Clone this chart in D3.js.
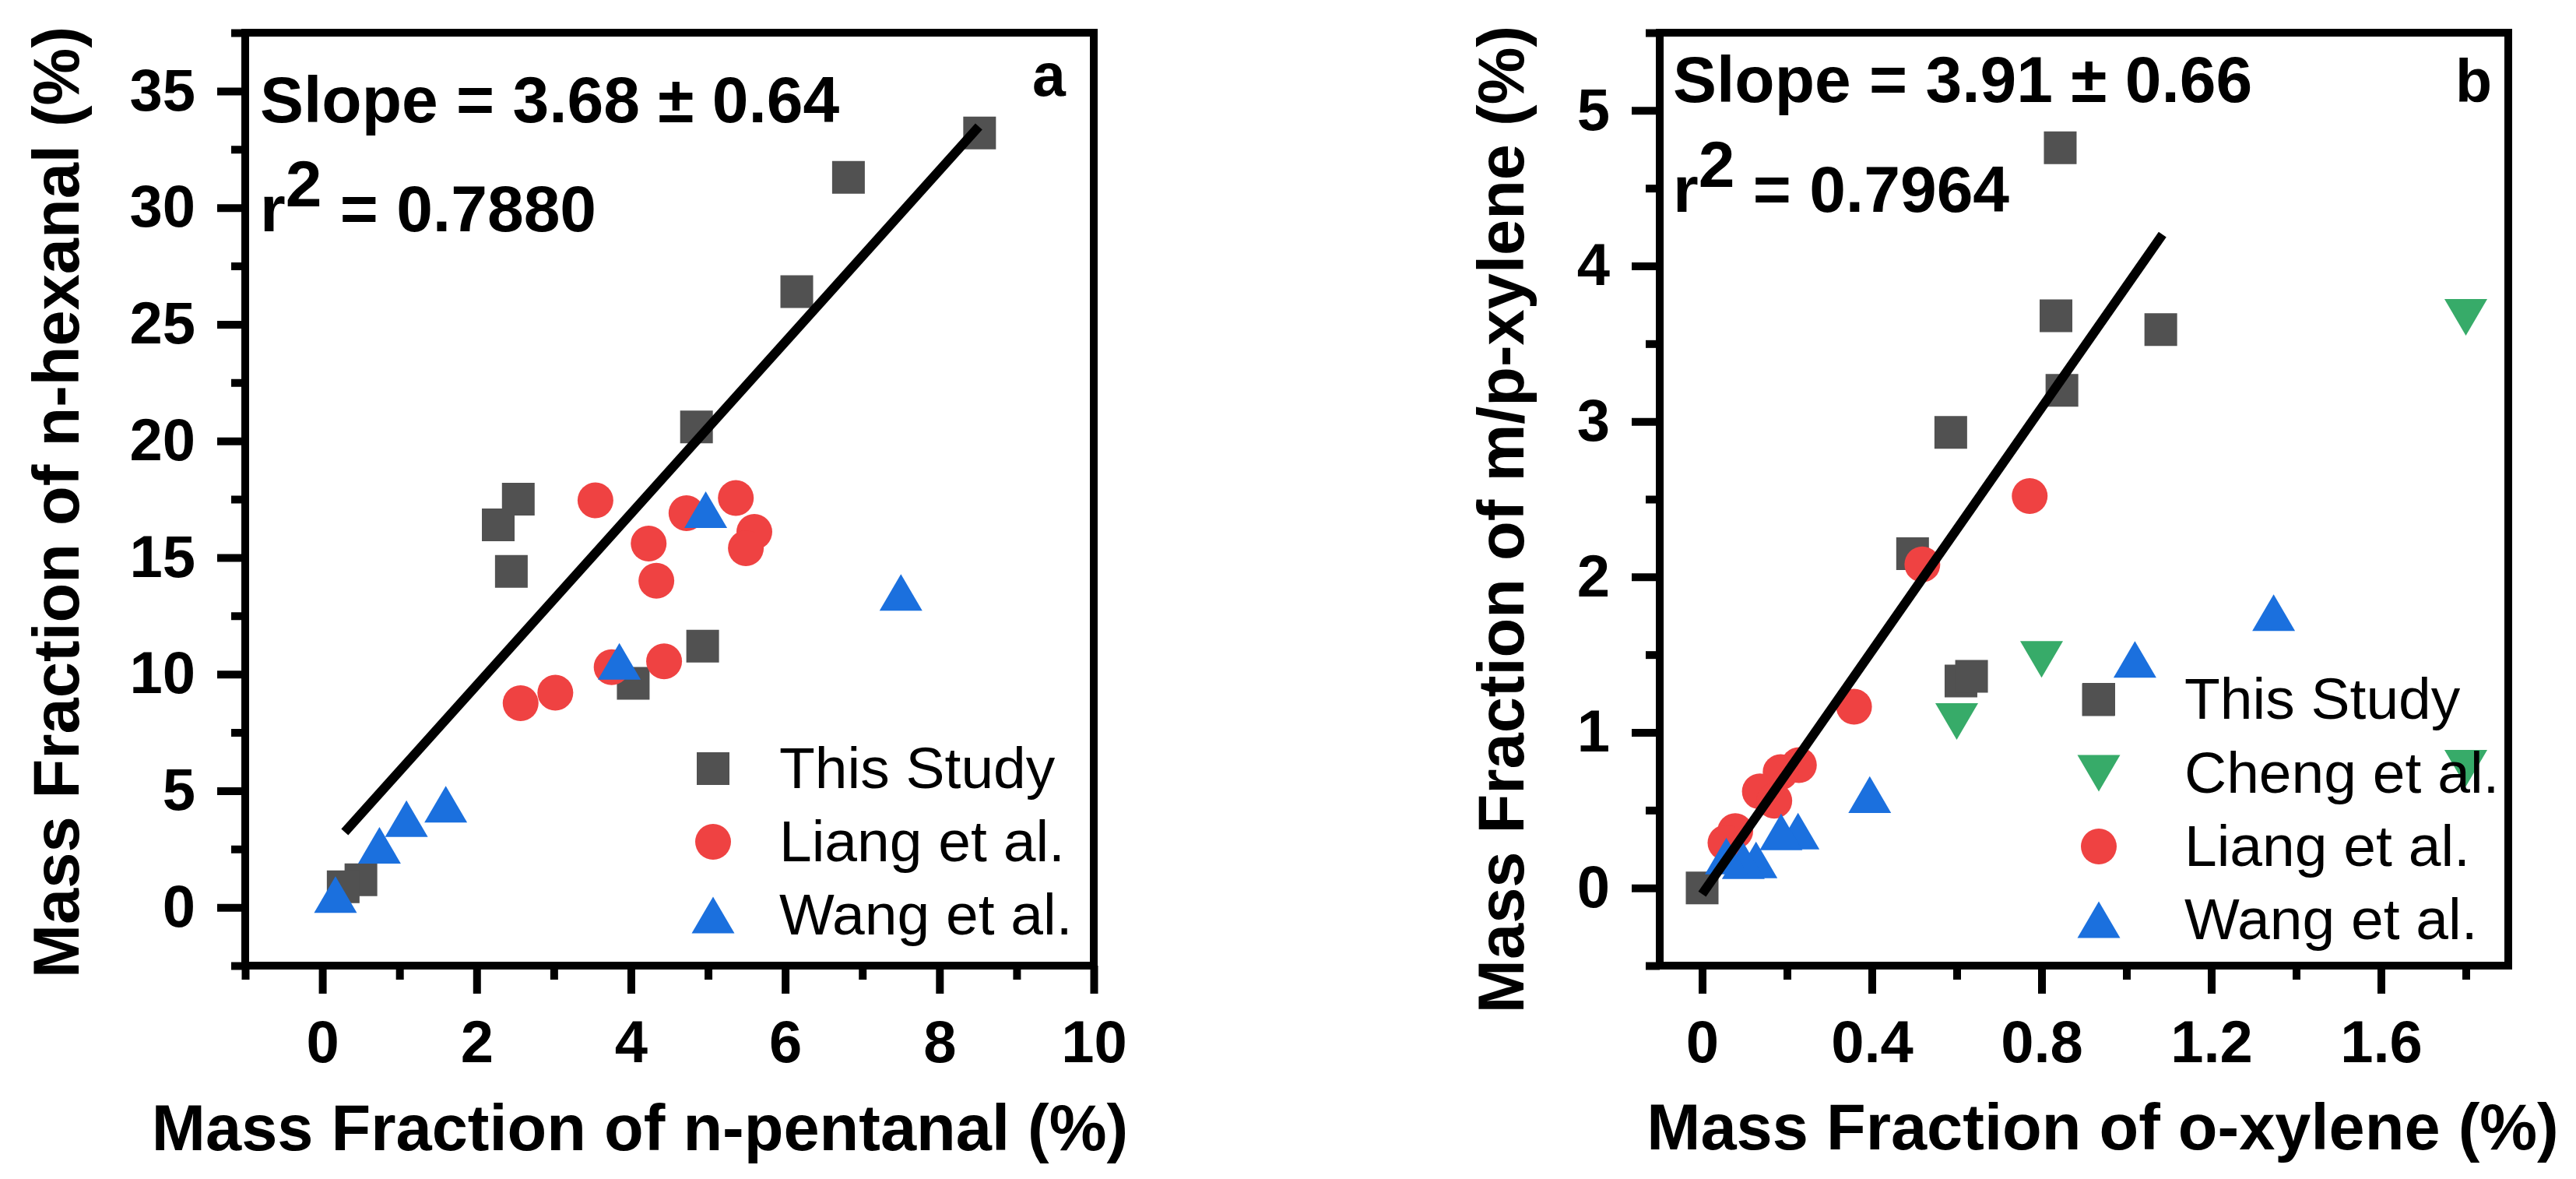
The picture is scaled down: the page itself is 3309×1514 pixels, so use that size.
<!DOCTYPE html>
<html>
<head>
<meta charset="utf-8">
<script src="https://cdn.jsdelivr.net/npm/d3@7/dist/d3.min.js"></script>
<style>
  body { margin: 0; background: #fff; }
  svg { display: block; }
</style>
</head>
<body>
<svg id="chart" width="3309" height="1514"></svg>
<script>
// panel a: n-pentanal vs n-hexanal, [x, y] in %
const studyA = [[8.52, 33.2], [6.82, 31.3], [6.15, 26.4], [4.85, 20.6], [2.54, 17.5], [2.28, 16.4],
  [2.45, 14.4], [4.93, 11.2], [4.03, 9.6], [0.50, 1.18], [0.27, 0.88]];
const liangA = [[3.54, 17.45], [5.36, 17.55], [4.72, 16.9], [5.6, 16.1], [5.49, 15.4], [4.23, 15.6],
  [4.33, 14.0], [3.75, 10.3], [4.43, 10.55], [3.02, 9.2], [2.57, 8.75]];
const wangA = [[0.17, 0.55], [0.74, 2.66], [1.09, 3.8], [1.6, 4.42], [3.85, 10.55], [4.97, 17.05], [7.5, 13.5]];
const fitA = { slope: 3.68, intercept: 2.16, from: 0.29, to: 8.51 };

// panel b: o-xylene vs m/p-xylene
const studyB = [[0.844, 4.76], [0.834, 3.68], [1.081, 3.59], [0.848, 3.20], [0.586, 2.93], [0.496, 2.15],
  [0.61, 1.33], [0.635, 1.36], [0.934, 1.21], [0, 0]];
const chengB = [[1.80, 3.67], [0.80, 1.47], [0.60, 1.07], [1.80, 0.77]];
const liangB = [[0.772, 2.52], [0.519, 2.08], [0.358, 1.165], [0.228, 0.79], [0.185, 0.745], [0.136, 0.62],
  [0.17, 0.56], [0.078, 0.365], [0.055, 0.29]];
const wangB = [[1.347, 1.77], [1.02, 1.47], [0.395, 0.60], [0.226, 0.365], [0.186, 0.36], [0.127, 0.18],
  [0.097, 0.175], [0.057, 0.205]];
const fitB = { slope: 3.91, intercept: -0.04, from: 0, to: 1.085 };

// ticks
const xMajorA = [0, 2, 4, 6, 8, 10];
const xMinorA = [-1, 1, 3, 5, 7, 9];
const yMajorA = [0, 5, 10, 15, 20, 25, 30, 35];
const yMinorA = [-2.5, 2.5, 7.5, 12.5, 17.5, 22.5, 27.5, 32.5, 37.5];
const xMajorB = [0, 0.4, 0.8, 1.2, 1.6];
const xMinorB = [0.2, 0.6, 1.0, 1.4, 1.8];
const yMajorB = [0, 1, 2, 3, 4, 5];
const yMinorB = [-0.5, 0.5, 1.5, 2.5, 3.5, 4.5, 5.5];

const colors = { study: "#515151", cheng: "#37ab69", liang: "#ef4242", wang: "#1b70de" };
const FONT = "'Liberation Sans', Arial, Helvetica, sans-serif";

const svg = d3.select("#chart").attr("font-family", FONT);
svg.append("rect").attr("width", 3309).attr("height", 1514).attr("fill", "#fff");

// triangle symbols centred on their bounding box (size = width)
const triUp = { draw(ctx, w) { const h = w * 0.855; ctx.moveTo(-w / 2, h / 2); ctx.lineTo(0, -h / 2); ctx.lineTo(w / 2, h / 2); ctx.closePath(); } };
const triDown = { draw(ctx, w) { const h = w * 0.855; ctx.moveTo(-w / 2, -h / 2); ctx.lineTo(0, h / 2); ctx.lineTo(w / 2, -h / 2); ctx.closePath(); } };
const shapes = {
  square: d3.symbol().type(d3.symbolSquare).size(42 * 42),
  circle: d3.symbol().type(d3.symbolCircle).size(Math.PI * 23 * 23),
  up: d3.symbol().type(triUp).size(55),
  down: d3.symbol().type(triDown).size(55)
};

function drawPanel(p) {
  const x = d3.scaleLinear().domain(p.xDomain).range([p.left, p.right]);
  const y = d3.scaleLinear().domain(p.yDomain).range([p.bottom, p.top]);
  const g = svg.append("g");

  // points
  p.series.forEach(s => {
    g.append("g").selectAll("path").data(s.data).enter().append("path")
      .attr("d", shapes[s.shape])
      .attr("transform", d => `translate(${x(d[0])},${y(d[1])})`)
      .attr("fill", s.color);
  });

  // linear fit
  g.append("line")
    .attr("x1", x(p.fit.from)).attr("y1", y(p.fit.slope * p.fit.from + p.fit.intercept))
    .attr("x2", x(p.fit.to)).attr("y2", y(p.fit.slope * p.fit.to + p.fit.intercept))
    .attr("stroke", "#000").attr("stroke-width", 12);

  // axes (ticks only, outward)
  const styleAxis = a => {
    a.select(".domain").remove();
    a.attr("font-family", FONT).attr("font-size", 76).attr("font-weight", "bold");
    a.selectAll("line").attr("stroke", "#000").attr("stroke-width", 10);
    a.selectAll("text").attr("fill", "#000");
  };
  g.append("g").attr("transform", `translate(0,${p.bottom})`)
    .call(d3.axisBottom(x).tickValues(p.xMajor).tickSize(36).tickPadding(34).tickFormat(p.xFmt)).call(styleAxis);
  g.append("g").attr("transform", `translate(0,${p.bottom})`)
    .call(d3.axisBottom(x).tickValues(p.xMinor).tickSize(18).tickFormat("")).call(styleAxis);
  g.append("g").attr("transform", `translate(${p.left},0)`)
    .call(d3.axisLeft(y).tickValues(p.yMajor).tickSize(36).tickPadding(28).tickFormat(d3.format("d"))).call(styleAxis);
  g.append("g").attr("transform", `translate(${p.left},0)`)
    .call(d3.axisLeft(y).tickValues(p.yMinor).tickSize(18).tickFormat("")).call(styleAxis);

  // frame
  g.append("rect").attr("x", p.left).attr("y", p.top)
    .attr("width", p.right - p.left).attr("height", p.bottom - p.top)
    .attr("fill", "none").attr("stroke", "#000").attr("stroke-width", 10);

  // slope / r2 annotation
  g.append("text").attr("x", p.noteX).attr("y", p.noteY[0])
    .attr("font-size", 84).attr("font-weight", "bold").text(p.slopeText);
  const r2 = g.append("text").attr("x", p.noteX).attr("y", p.noteY[1])
    .attr("font-size", 84).attr("font-weight", "bold");
  r2.append("tspan").text("r");
  r2.append("tspan").attr("dy", -32).text("2");
  r2.append("tspan").attr("dy", 32).text(" = " + p.r2Text);

  g.append("text").attr("x", p.tagX).attr("y", p.tagY)
    .attr("font-size", 77).attr("font-weight", "bold").text(p.tag);

  // legend
  p.legend.forEach((l, i) => {
    const by = p.legendY[i];
    g.append("path").attr("d", shapes[l.shape])
      .attr("transform", `translate(${p.legendMarkX},${by - 25})`).attr("fill", l.color);
    g.append("text").attr("x", p.legendTextX).attr("y", by)
      .attr("font-size", 75).text(l.name);
  });

  // axis titles
  g.append("text").attr("x", p.xTitle[0]).attr("y", p.xTitle[1])
    .attr("text-anchor", "middle").attr("font-size", 83).attr("font-weight", "bold").text(p.xLabel);
  g.append("text").attr("transform", `translate(${p.yTitle[0]},${p.yTitle[1]}) rotate(-90)`)
    .attr("text-anchor", "middle").attr("font-size", 83).attr("font-weight", "bold").text(p.yLabel);
}

const legendA = [
  { name: "This Study", shape: "square", color: colors.study },
  { name: "Liang et al.", shape: "circle", color: colors.liang },
  { name: "Wang et al.", shape: "up", color: colors.wang }
];
const legendB = [
  { name: "This Study", shape: "square", color: colors.study },
  { name: "Cheng et al.", shape: "down", color: colors.cheng },
  { name: "Liang et al.", shape: "circle", color: colors.liang },
  { name: "Wang et al.", shape: "up", color: colors.wang }
];

drawPanel({
  left: 315, right: 1405, top: 42, bottom: 1240,
  xDomain: [-1, 10], yDomain: [-2.5, 37.5],
  xMajor: xMajorA, xMinor: xMinorA, yMajor: yMajorA, yMinor: yMinorA,
  xFmt: d3.format("d"),
  series: [
    { data: studyA, shape: "square", color: colors.study },
    { data: liangA, shape: "circle", color: colors.liang },
    { data: wangA, shape: "up", color: colors.wang }
  ],
  fit: fitA,
  noteX: 334, noteY: [157, 297], slopeText: "Slope = 3.68 ± 0.64", r2Text: "0.7880",
  tag: "a", tagX: 1326, tagY: 123,
  legend: legendA, legendMarkX: 916, legendTextX: 1001, legendY: [1012, 1106, 1200],
  xLabel: "Mass Fraction of n-pentanal (%)", xTitle: [822, 1477],
  yLabel: "Mass Fraction of n-hexanal (%)", yTitle: [101, 645]
});

drawPanel({
  left: 2132, right: 3222, top: 42, bottom: 1240,
  xDomain: [-0.1, 1.9], yDomain: [-0.5, 5.5],
  xMajor: xMajorB, xMinor: xMinorB, yMajor: yMajorB, yMinor: yMinorB,
  xFmt: d => d === 0 ? "0" : d3.format(".1f")(d),
  series: [
    { data: studyB, shape: "square", color: colors.study },
    { data: chengB, shape: "down", color: colors.cheng },
    { data: liangB, shape: "circle", color: colors.liang },
    { data: wangB, shape: "up", color: colors.wang }
  ],
  fit: fitB,
  noteX: 2149, noteY: [131, 272], slopeText: "Slope = 3.91 ± 0.66", r2Text: "0.7964",
  tag: "b", tagX: 3154, tagY: 131,
  legend: legendB, legendMarkX: 2696, legendTextX: 2806, legendY: [923, 1018, 1112, 1206],
  xLabel: "Mass Fraction of o-xylene (%)", xTitle: [2701, 1476],
  yLabel: "Mass Fraction of m/p-xylene (%)", yTitle: [1957, 667]
});
</script>
</body>
</html>
